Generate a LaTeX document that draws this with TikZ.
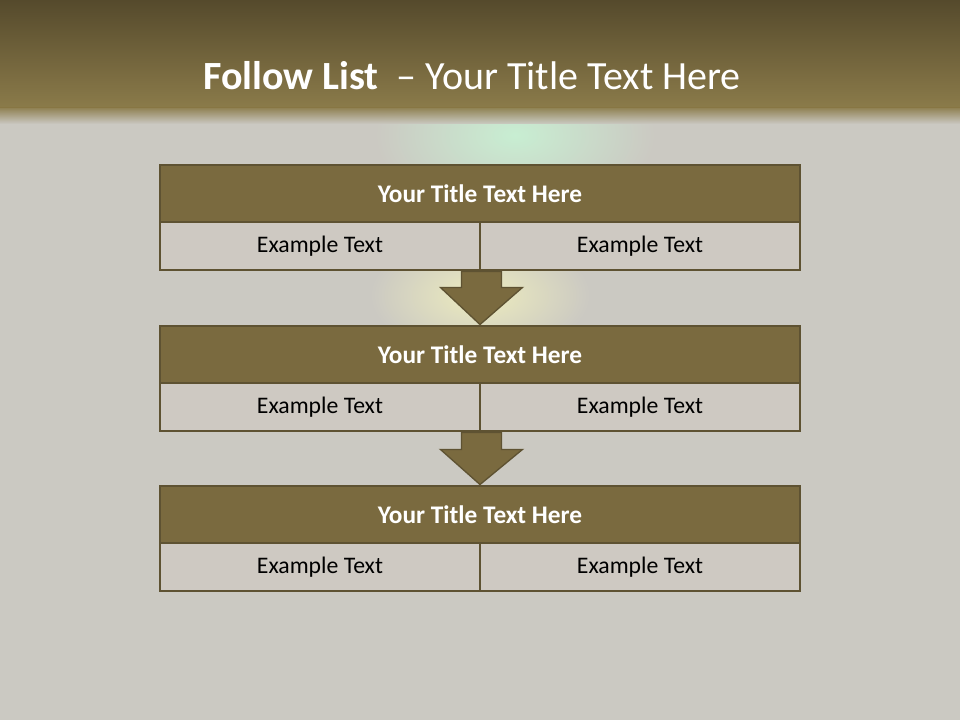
\documentclass[tikz,border=0pt]{standalone}
\usepackage{fontspec}
\setmainfont{Carlito}
\usetikzlibrary{calc}
\definecolor{bggray}{HTML}{CBC9C2}
\definecolor{bandtop}{HTML}{554A2C}
\definecolor{bandbot}{HTML}{8B7B4A}
\definecolor{boxfill}{HTML}{7A6A3F}
\definecolor{boxline}{HTML}{5E5232}
\definecolor{cellfill}{HTML}{CEC9C2}
\definecolor{glowgreen}{HTML}{C8EED2}
\definecolor{glowyellow}{HTML}{EDECBE}
\tikzset{
  headbox/.style={draw=boxline, fill=boxfill, line width=2.2pt, minimum width=480pt,
    minimum height=42.75pt, inner sep=0pt, text=white,
    font=\fontsize{19}{22}\selectfont\bfseries},
  cellbox/.style={draw=boxline, fill=cellfill, line width=2.2pt, minimum width=240pt,
    minimum height=36pt, inner sep=0pt, text=black,
    font=\fontsize{17.8}{21}\selectfont},
  downarrow/.style={draw=boxline, fill=boxfill, line width=1pt, line join=miter},
  maintitle/.style={text=white, inner sep=0pt, font=\fontsize{30}{35}\selectfont}
}
\begin{document}
\begin{tikzpicture}[x=0.75pt, y=-0.75pt]
\useasboundingbox (0,0) rectangle (960,720);
% background
\fill[bggray] (0,0) rectangle (960,720);
% faint glows from the background picture
\shade[inner color=glowgreen, outer color=bggray] (515,135) ellipse (140 and 80);
\shade[inner color=glowyellow, outer color=bggray] (480,295) ellipse (110 and 60);
% title band
\shade[top color=bandtop, bottom color=bandbot] (0,0) rectangle (960,108);
\shade[top color=bandbot, bottom color=bggray, opacity=0.9] (0,108) rectangle (960,124);
\node[maintitle] (title) at (472,76) {\textbf{Follow List}\ \ – Your Title Text Here};
% block 1
\node[headbox] (t1) at (480,193.5) {Your Title Text Here};
\node[cellbox] (c1l) at (320,246) {Example Text};
\node[cellbox] (c1r) at (640,246) {Example Text};
% block 2
\node[headbox] (t2) at (480,354.5) {Your Title Text Here};
\node[cellbox] (c2l) at (320,407) {Example Text};
\node[cellbox] (c2r) at (640,407) {Example Text};
% block 3
\node[headbox] (t3) at (480,514.5) {Your Title Text Here};
\node[cellbox] (c3l) at (320,567) {Example Text};
\node[cellbox] (c3r) at (640,567) {Example Text};
% arrows
\draw[downarrow] ($(c1l.south east)+(-20,0)$) -- ($(c1l.south east)+(20,0)$)
  -- ($(c1l.south east)+(20,16)$) -- ($(c1l.south east)+(41,16)$) -- (t2.north)
  -- ($(c1l.south east)+(-41,16)$) -- ($(c1l.south east)+(-20,16)$) -- cycle;
\draw[downarrow] ($(c2l.south east)+(-20,0)$) -- ($(c2l.south east)+(20,0)$)
  -- ($(c2l.south east)+(20,17)$) -- ($(c2l.south east)+(41,17)$) -- (t3.north)
  -- ($(c2l.south east)+(-41,17)$) -- ($(c2l.south east)+(-20,17)$) -- cycle;
\end{tikzpicture}
\end{document}
